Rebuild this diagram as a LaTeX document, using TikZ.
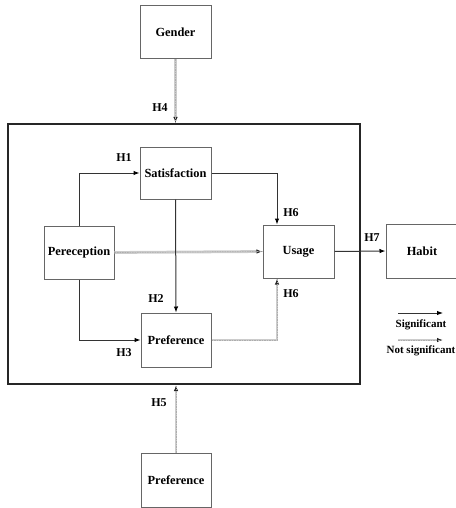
\documentclass[tikz,border=0pt]{standalone}
\usepackage{fontspec}
\setmainfont{Liberation Serif}
\usetikzlibrary{arrows.meta}
\begin{document}
\begin{tikzpicture}[x=1pt,y=-1pt,
  box/.style={draw=black!60,line width=1pt,fill=white,minimum width=71pt,minimum height=53pt,inner sep=0pt,font=\fontsize{12.4}{14}\selectfont\bfseries},
  sig/.style={draw=black!80,line width=1pt,-{Latex[length=6pt,width=4.5pt,color=black]}},
  nsig/.style={draw=black!20,line width=2.8pt,-{Latex[length=6pt,width=4.5pt,color=black!85]},
    postaction={draw=black!32,line width=0.7pt,dash pattern=on 1.5pt off 1pt,-{}}},
  hlab/.style={font=\fontsize{12}{13}\selectfont\bfseries,inner sep=0pt},
  leg/.style={font=\fontsize{11}{12}\selectfont\bfseries,inner sep=0pt}]
\useasboundingbox (0,0) rectangle (455,508);
\node[draw=black!85,line width=2pt,minimum width=352pt,minimum height=260pt,inner sep=0pt] (frame) at (184,254) {};
\node[box] (gender) at (175.5,32.5) {Gender};
\node[box,minimum height=52pt] (sat) at (175.5,173) {Satisfaction};
\node[box,minimum width=70pt] (per) at (79,252.5) {Pereception};
\node[box,minimum width=70pt,minimum height=54pt] (pref) at (176,340) {Preference};
\node[box] (usage) at (298.5,251.5) {Usage};
\node[box,minimum width=72pt,minimum height=54pt] (habit) at (422,251) {Habit};
\node[box,minimum width=70pt,minimum height=54pt] (pref2) at (176,480) {Preference};
% not significant paths
\draw[nsig] (per.east) -- (usage.west);
\draw[nsig] (pref.east) -| ([xshift=-21.5pt]usage.south);
\draw[nsig] (gender.south) -- (gender.south |- frame.north);
\draw[nsig] (pref2.north) -- (pref2.north |- frame.south);
% significant paths
\draw[sig] (per.north) |- (sat.west);
\draw[sig] (per.south) |- (pref.west);
\draw[sig] (sat.south) -- (pref.north);
\draw[sig] (sat.east) -| ([xshift=-21.5pt]usage.north);
\draw[sig] (usage.east) -- (habit.west);
% labels
\node[hlab] (h4) at (160,108) {H4};
\node[hlab] (h1) at (124,158) {H1};
\node[hlab] (h2) at (156,299) {H2};
\node[hlab] (h3) at (124,353) {H3};
\node[hlab] (h6a) at (291,213) {H6};
\node[hlab] (h6b) at (291,294) {H6};
\node[hlab] (h7) at (372,238) {H7};
\node[hlab] (h5) at (159,403) {H5};
% legend
\coordinate (l1a) at (398,313);
\coordinate (l1b) at (443,313);
\coordinate (l2a) at (398,340);
\coordinate (l2b) at (443,340);
\draw[sig] (l1a) -- (l1b);
\draw[nsig] (l2a) -- (l2b);
\node[leg] (lsig) at (421,325) {Significant};
\node[leg] (lnsig) at (421,351) {Not significant};
\end{tikzpicture}
\end{document}
